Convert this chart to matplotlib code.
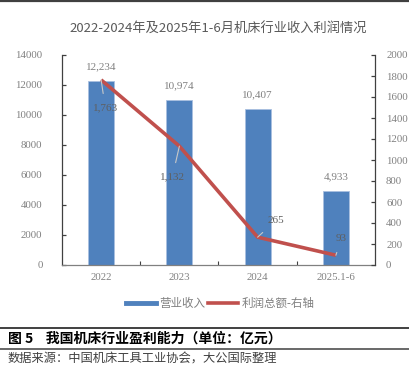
import matplotlib
matplotlib.use("Agg")
import matplotlib.pyplot as plt
from matplotlib.lines import Line2D

plt.rcParams['font.family'] = ['Liberation Serif', 'Noto Sans CJK SC']

categories = ["2022", "2023", "2024", "2025.1-6"]
revenue = [12234, 10974, 10407, 4933]
profit = [1763, 1132, 265, 93]
revenue_labels = ["12,234", "10,974", "10,407", "4,933"]
profit_labels = ["1,763", "1,132", "265", "93"]

gray = "#808080"
blue = "#4F81BD"
red = "#C0504D"

fig = plt.figure(figsize=(4.1, 3.67), dpi=100)
ax = fig.add_axes([62 / 410, 1 - 265 / 367, (375 - 62) / 410, (265 - 55) / 367])
ax2 = ax.twinx()

x = list(range(len(categories)))

# bars - revenue
ax.bar(x, revenue, width=0.33, color=blue, edgecolor="#A9C0E0", linewidth=0.6,
       label="营业收入", zorder=2)
ax.set_xlim(-0.5, 3.5)
ax.set_ylim(0, 14000)
ax.set_yticks(range(0, 14001, 2000))
ax.set_xticks(x)
ax.set_xticklabels(categories)
ax.set_xticks([0.5, 1.5, 2.5], minor=True)

# line - profit on right axis
ax2.plot(x, profit, color=red, linewidth=2.6, solid_capstyle="butt",
         label="利润总额-右轴", zorder=3)
ax2.set_ylim(0, 2000)
ax2.set_yticks(range(0, 2001, 200))

for a in (ax, ax2):
    a.spines["top"].set_visible(False)
    for s in ("left", "right", "bottom"):
        a.spines[s].set_color("#404040")
        a.spines[s].set_linewidth(0.9)
    a.tick_params(axis="y", direction="in", length=3, width=0.9, color="#404040",
                  labelsize=7.8, labelcolor=gray, pad=4)

ax.spines["right"].set_visible(False)
ax2.spines["left"].set_visible(False)
ax2.spines["bottom"].set_visible(False)
ax.spines["bottom"].set_color("#808080")
ax.tick_params(axis="x", which="major", length=0, labelsize=7.8, labelcolor=gray, pad=6)
ax.tick_params(axis="x", which="minor", direction="in", length=3, width=0.8, color="#404040")
ax.tick_params(axis="y", pad=14)
ax2.tick_params(axis="y", pad=8)

# revenue data labels
for xi, v, lab in zip(x, revenue, revenue_labels):
    ax.annotate(lab, (xi, v), xytext=(0, 7), textcoords="offset points",
                ha="center", va="bottom", fontsize=8, color=gray)

# profit data labels with leader lines
offsets = [(3, -20), (-5, -22), (13, 12), (4, 12)]
for xi, v, lab, off in zip(x, profit, profit_labels, offsets):
    ax2.annotate(lab, (xi, v), xytext=off, textcoords="offset points",
                 ha="center", va="center", fontsize=8, color="#5f5f5f", zorder=5,
                 arrowprops=dict(arrowstyle="-", color="#C8C8C8", lw=0.8,
                                 shrinkA=5, shrinkB=0))

ax.set_title("2022-2024年及2025年1-6月机床行业收入利润情况", fontsize=9.5,
             color="#595959", family=["Noto Sans CJK SC"], pad=16)

h1, l1 = ax.get_legend_handles_labels()
h2, l2 = ax2.get_legend_handles_labels()
handles = [Line2D([0], [0], color=blue, linewidth=3.5), Line2D([0], [0], color=red, linewidth=2.6)]
fig.legend(handles, l1 + l2, loc="center", bbox_to_anchor=(220 / 410, 1 - 304 / 367), ncol=2,
           frameon=False, fontsize=8.3, labelcolor=gray, handlelength=2.6,
           handletextpad=0.3, columnspacing=0.2)

# caption block
fig.add_artist(Line2D([0, 1], [1 - 1 / 367, 1 - 1 / 367], color="#404040", linewidth=1.6))
fig.add_artist(Line2D([0, 1], [1 - 328 / 367, 1 - 328 / 367], color="#404040", linewidth=1.4))
fig.add_artist(Line2D([0, 1], [1 - 349 / 367, 1 - 349 / 367], color="#404040", linewidth=1.1))
fig.text(8 / 410, 1 - 339 / 367, "图 5    我国机床行业盈利能力（单位：亿元）", fontsize=10,
         fontweight="bold", color="black", va="center", ha="left", family=["Noto Sans CJK SC"])
fig.text(8 / 410, 1 - 359 / 367, "数据来源：中国机床工具工业协会，大公国际整理", fontsize=8.8,
         color="#404040", va="center", ha="left", family=["Noto Sans CJK SC"])

fig.savefig("out.png", dpi=100, facecolor="white")
